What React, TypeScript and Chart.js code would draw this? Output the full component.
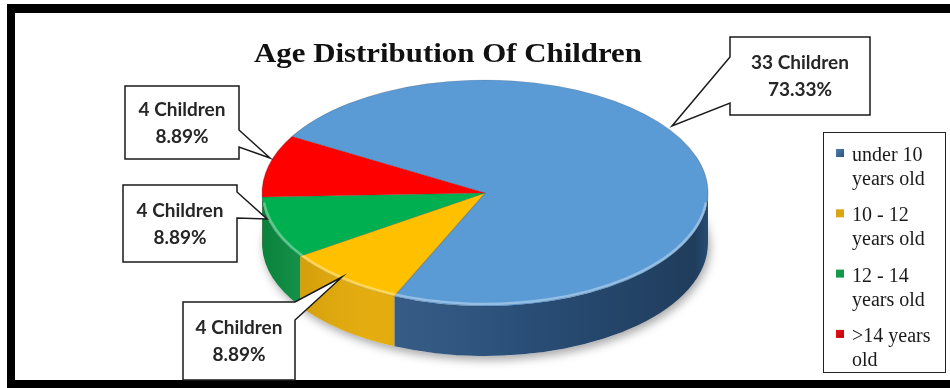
import React, { useEffect, useRef } from 'react';
import { Chart, registerables } from 'chart.js';

Chart.register(...registerables);

// ---- data ----
const categories = ['under 10 years old', '10 - 12 years old', '12 - 14 years old', '>14 years old'];
const legendLines = [
  ['under 10', 'years old'],
  ['10 - 12', 'years old'],
  ['12 - 14', 'years old'],
  ['>14 years', 'old'],
];
const childCounts = [33, 4, 4, 4];
const titleText = 'Age Distribution Of Children';

// ---- styles ----
const topColors = ['#5b9bd5', '#ffc000', '#00b050', '#ff0000'];
const sideColors = ['#2c5480', '#e3a800', '#0b9846', '#c00000'];
const markerColors = ['#4f7fab', '#d6a21c', '#1d9a50', '#e8141e'];

// ---- layout ----
const PIE = { cx: 485, cy: 193, rx: 223, ry: 113, depth: 50 };
type Callout = { box: number[]; side: 'left' | 'right'; w1: number; w2: number; tip: number[] };
const CALLOUTS: Callout[] = [
  { box: [730, 37, 140, 78], side: 'left', w1: 57, w2: 103, tip: [672, 126] },
  { box: [183, 302, 112, 78], side: 'right', w1: 302, w2: 320, tip: [342, 277] },
  { box: [123, 185, 114, 77], side: 'right', w1: 192, w2: 218, tip: [267, 219] },
  { box: [125, 86, 114, 73], side: 'right', w1: 130, w2: 147, tip: [270, 158] },
];
const LEGEND = { x: 823, y: 132, w: 122, h: 240, textX: 852, markX: 836, first: 161, line: 24, gap: 36.3 };

const total = childCounts.reduce((a, b) => a + b, 0);

const pie3dPlugin = {
  id: 'pie3d',
  beforeDraw(chart: any) {
    const ctx: CanvasRenderingContext2D = chart.ctx;
    ctx.save();
    ctx.fillStyle = '#ffffff';
    ctx.fillRect(0, 0, chart.width, chart.height);
    ctx.fillStyle = '#000000';
    ctx.fillRect(7, 4, 943, 9);
    ctx.fillRect(7, 4, 8, 384);
    ctx.fillRect(7, 380, 943, 8);
    ctx.restore();
  },
  beforeDatasetsDraw(chart: any) {
    const ctx: CanvasRenderingContext2D = chart.ctx;
    const meta = chart.getDatasetMeta(0);
    const arcs = meta.data;
    const { cx, cy, rx, ry, depth } = PIE;

    // soft shadow under the base
    ctx.save();
    ctx.shadowColor = 'rgba(0,0,0,0.35)';
    ctx.shadowBlur = 10;
    ctx.shadowOffsetY = 4;
    ctx.shadowOffsetX = 2;
    ctx.beginPath();
    ctx.ellipse(cx, cy + depth, rx, ry, 0, 0, Math.PI * 2);
    ctx.fillStyle = '#ffffff';
    ctx.fill();
    ctx.restore();

    // side walls (front half only)
    arcs.forEach((arc: any, i: number) => {
      const { startAngle, endAngle } = arc.getProps(['startAngle', 'endAngle'], true);
      for (let k = -2; k <= 2; k++) {
        const lo = Math.max(startAngle, 2 * Math.PI * k);
        const hi = Math.min(endAngle, 2 * Math.PI * k + Math.PI);
        if (hi <= lo) continue;
        ctx.save();
        ctx.beginPath();
        ctx.ellipse(cx, cy, rx, ry, 0, lo, hi, false);
        ctx.ellipse(cx, cy + depth, rx, ry, 0, hi, lo, true);
        ctx.closePath();
        ctx.fillStyle = sideColors[i];
        ctx.fill();
        const g = ctx.createLinearGradient(cx - rx, 0, cx + rx, 0);
        g.addColorStop(0, 'rgba(0,0,0,0.15)');
        g.addColorStop(0.25, 'rgba(255,255,255,0.06)');
        g.addColorStop(0.6, 'rgba(0,0,0,0.08)');
        g.addColorStop(0.97, 'rgba(0,0,0,0.28)');
        g.addColorStop(1, 'rgba(0,0,0,0.1)');
        ctx.fillStyle = g;
        ctx.fill();
        ctx.restore();
      }
    });

    // map Chart.js circle onto the top-face ellipse
    const a0 = arcs[0];
    const R = a0.outerRadius;
    ctx.save();
    ctx.translate(cx, cy);
    ctx.scale(rx / R, ry / R);
    ctx.translate(-a0.x, -a0.y);
  },
  afterDatasetsDraw(chart: any) {
    const ctx: CanvasRenderingContext2D = chart.ctx;
    ctx.restore();
    const { cx, cy, rx, ry } = PIE;

    // rim highlight on front edge of the top face
    ctx.save();
    ctx.beginPath();
    ctx.ellipse(cx, cy - 1, rx - 1, ry - 1, 0, Math.PI * 0.03, Math.PI * 0.97);
    ctx.strokeStyle = 'rgba(255,255,255,0.35)';
    ctx.lineWidth = 2.5;
    ctx.stroke();
    ctx.restore();

    // callouts
    CALLOUTS.forEach((c, i) => {
      const [x, y, w, h] = c.box;
      ctx.save();
      ctx.beginPath();
      if (c.side === 'right') {
        ctx.moveTo(x, y);
        ctx.lineTo(x + w, y);
        ctx.lineTo(x + w, c.w1);
        ctx.lineTo(c.tip[0], c.tip[1]);
        ctx.lineTo(x + w, c.w2);
        ctx.lineTo(x + w, y + h);
        ctx.lineTo(x, y + h);
      } else {
        ctx.moveTo(x, y);
        ctx.lineTo(x + w, y);
        ctx.lineTo(x + w, y + h);
        ctx.lineTo(x, y + h);
        ctx.lineTo(x, c.w2);
        ctx.lineTo(c.tip[0], c.tip[1]);
        ctx.lineTo(x, c.w1);
      }
      ctx.closePath();
      ctx.fillStyle = '#ffffff';
      ctx.fill();
      ctx.strokeStyle = '#1a1a1a';
      ctx.lineWidth = 1.5;
      ctx.lineJoin = 'miter';
      ctx.stroke();
      const pct = ((childCounts[i] / total) * 100).toFixed(2) + '%';
      const mid = x + w / 2;
      const cyb = y + h / 2;
      ctx.fillStyle = '#262626';
      ctx.font = 'bold 19px Lato';
      ctx.textAlign = 'center';
      ctx.textBaseline = 'alphabetic';
      ctx.fillText(`${childCounts[i]} Children`, mid, cyb - 7);
      ctx.fillText(pct, mid, cyb + 20);
      ctx.restore();
    });

    // title
    ctx.save();
    ctx.font = 'bold 27px "Liberation Serif"';
    ctx.fillStyle = '#111111';
    ctx.textAlign = 'left';
    ctx.textBaseline = 'alphabetic';
    const tw = ctx.measureText(titleText).width;
    const targetW = 388;
    ctx.translate(254, 62);
    ctx.scale(targetW / tw, 1);
    ctx.fillText(titleText, 0, 0);
    ctx.restore();

    // legend
    ctx.save();
    ctx.strokeStyle = '#222222';
    ctx.lineWidth = 1;
    ctx.strokeRect(LEGEND.x + 0.5, LEGEND.y + 0.5, LEGEND.w, LEGEND.h);
    ctx.font = '20px "Liberation Serif"';
    ctx.fillStyle = '#1a1a1a';
    ctx.textAlign = 'left';
    ctx.textBaseline = 'alphabetic';
    categories.forEach((_, i) => {
      const base = LEGEND.first + i * (LEGEND.line + LEGEND.gap);
      const mg = ctx.createLinearGradient(LEGEND.markX, base - 12, LEGEND.markX + 8, base - 4);
      mg.addColorStop(0, markerColors[i]);
      mg.addColorStop(1, sideColors[i]);
      ctx.fillStyle = mg;
      ctx.fillRect(LEGEND.markX, base - 12, 8, 8);
      ctx.fillStyle = '#1a1a1a';
      legendLines[i].forEach((t, j) => {
        ctx.fillText(t, LEGEND.textX, base + j * LEGEND.line);
      });
    });
    ctx.restore();
  },
};

export default function App() {
  const ref = useRef<HTMLCanvasElement | null>(null);
  useEffect(() => {
    document.body.style.margin = '0';
    const canvas = ref.current;
    if (!canvas) return;
    const chart = new Chart(canvas, {
      type: 'pie',
      data: {
        labels: categories,
        datasets: [
          {
            data: childCounts,
            backgroundColor: topColors,
            borderColor: 'rgba(40,40,40,0.25)',
            borderWidth: 1,
            clip: false as any,
          } as any,
        ],
      },
      options: {
        responsive: false,
        animation: false,
        events: [],
        rotation: -60,
        layout: { padding: 0 },
        plugins: {
          legend: { display: false },
          title: { display: false },
          tooltip: { enabled: false },
        },
      },
      plugins: [pie3dPlugin],
    });
    return () => chart.destroy();
  }, []);
  return (
    <div style={{ width: 950, height: 388 }}>
      <canvas ref={ref} width={950} height={388} style={{ display: 'block' }} />
    </div>
  );
}
